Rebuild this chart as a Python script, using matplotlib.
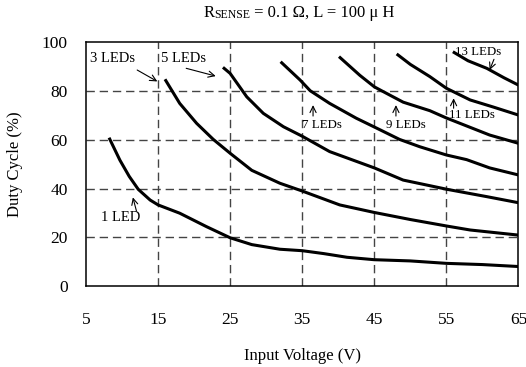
import matplotlib
matplotlib.use("Agg")
import matplotlib.pyplot as plt

plt.rcParams['font.family'] = ['Liberation Serif', 'DejaVu Serif']

# input voltage (V) vs duty cycle (%) for each LED string length
v_1led = [8.2, 9.7, 11.0, 12.25, 13.9, 15.0, 18.0, 21.7, 25.0, 28.0, 31.9, 35.0, 38.0, 41.2, 45.0, 50.0, 55.0, 60.0, 65.0]
d_1led = [60.9, 51.7, 45.0, 39.7, 35.3, 33.3, 29.9, 24.4, 19.8, 17.0, 15.1, 14.5, 13.3, 11.8, 10.8, 10.3, 9.3, 8.8, 8.0]

v_3led = [15.96, 18.0, 20.35, 22.66, 25.0, 28.0, 31.9, 35.0, 40.2, 45.0, 50.0, 55.1, 58.3, 65.0]
d_3led = [84.9, 75.0, 66.8, 60.2, 54.5, 47.5, 42.2, 39.0, 33.3, 30.2, 27.3, 24.6, 23.0, 20.9]

v_5led = [24.0, 25.0, 27.3, 29.6, 32.4, 35.0, 38.8, 45.0, 49.0, 55.1, 60.6, 65.0]
d_5led = [89.8, 87.3, 77.7, 70.9, 65.4, 61.5, 55.2, 48.5, 43.5, 39.7, 36.7, 34.2]

v_7led = [32.0, 34.7, 36.1, 38.8, 42.5, 45.0, 48.5, 51.3, 55.0, 57.8, 61.0, 65.0]
d_7led = [92.1, 84.6, 80.2, 75.0, 68.9, 65.3, 60.2, 57.2, 53.8, 51.9, 48.5, 45.6]

v_9led = [40.1, 43.0, 45.0, 46.0, 49.0, 52.7, 55.0, 58.0, 61.0, 65.0]
d_9led = [94.2, 86.5, 81.8, 80.2, 75.5, 72.0, 69.0, 65.5, 62.0, 58.6]

v_11led = [48.1, 50.0, 52.7, 55.0, 58.3, 61.5, 65.0]
d_11led = [95.3, 91.0, 86.0, 81.2, 76.4, 73.5, 70.2]

v_13led = [55.9, 58.0, 60.6, 63.0, 65.0]
d_13led = [96.2, 92.5, 89.4, 85.5, 82.5]

x_ticks = [5, 15, 25, 35, 45, 55, 65]
y_ticks = [0, 20, 40, 60, 80, 100]

fig = plt.figure(figsize=(5.26, 3.67), dpi=100)
ax = fig.add_axes([0.1635, 0.2207, 0.8222, 0.6635])

for v, d in [(v_1led, d_1led), (v_3led, d_3led), (v_5led, d_5led), (v_7led, d_7led),
             (v_9led, d_9led), (v_11led, d_11led), (v_13led, d_13led)]:
    ax.plot(v, d, color='black', lw=2.2, solid_capstyle='butt', solid_joinstyle='round', zorder=3)

ax.set_xlim(5, 65)
ax.set_ylim(0, 100)
ax.set_xticks(x_ticks)
ax.set_yticks(y_ticks)
ax.tick_params(axis='both', length=0, labelsize=12.5)
ax.tick_params(axis='x', pad=19)
ax.tick_params(axis='y', pad=13)
for s in ax.spines.values():
    s.set_linewidth(1.1)

# dashed grid on the inner divisions only
for xv in x_ticks[1:-1]:
    ax.axvline(xv, color='#444444', lw=1.0, dashes=(6, 3.5), zorder=1)
for yv in y_ticks[1:-1]:
    ax.axhline(yv, color='#444444', lw=1.0, dashes=(6, 3.5), zorder=1)

ax.set_xlabel("Input Voltage (V)", fontsize=12, labelpad=14)
ax.set_ylabel("Duty Cycle (%)", fontsize=12, labelpad=14)

# title: R with a smaller "SENSE" after it
t1 = fig.text(0.386, 0.943, "R", fontsize=12, ha='left', va='bottom')
t2 = ax.annotate("SENSE", xy=(1, 0), xycoords=t1, fontsize=8.5, ha='left', va='bottom',
                 annotation_clip=False)
ax.annotate(" = 0.1 \u03a9, L = 100 \u03bc H", xy=(1, 0), xycoords=t2, fontsize=12,
            ha='left', va='bottom', annotation_clip=False)

arrow = dict(arrowstyle='->,head_length=0.45,head_width=0.22', lw=0.8, color='black',
             shrinkA=0, shrinkB=0)

# curve labels and their pointers, in data coordinates
ax.text(5.6, 93.3, "3 LEDs", fontsize=10.5, ha='left', va='center')
ax.annotate("", xy=(14.9, 84.0), xytext=(12.1, 88.7), arrowprops=arrow)

ax.text(15.4, 93.3, "5 LEDs", fontsize=10.5, ha='left', va='center')
ax.annotate("", xy=(23.0, 86.2), xytext=(18.9, 89.4), arrowprops=arrow)

ax.text(9.8, 28.3, "1 LED", fontsize=10.5, ha='center', va='center')
ax.annotate("", xy=(11.5, 36.4), xytext=(12.0, 30.8), arrowprops=arrow)

ax.text(35.0, 66.1, "7 LEDs", fontsize=9.3, ha='left', va='center')
ax.annotate("", xy=(36.5, 74.3), xytext=(36.5, 69.8), arrowprops=arrow)

ax.text(46.6, 66.1, "9 LEDs", fontsize=9.3, ha='left', va='center')
ax.annotate("", xy=(48.0, 74.3), xytext=(48.0, 69.8), arrowprops=arrow)

ax.text(55.4, 70.2, "11 LEDs", fontsize=9.3, ha='left', va='center')
ax.annotate("", xy=(56.0, 77.1), xytext=(56.0, 73.0), arrowprops=arrow)

ax.text(56.2, 96.2, "13 LEDs", fontsize=9.3, ha='left', va='center')
ax.annotate("", xy=(61.0, 88.7), xytext=(61.6, 93.1), arrowprops=arrow)

fig.savefig("out.png", dpi=100)
